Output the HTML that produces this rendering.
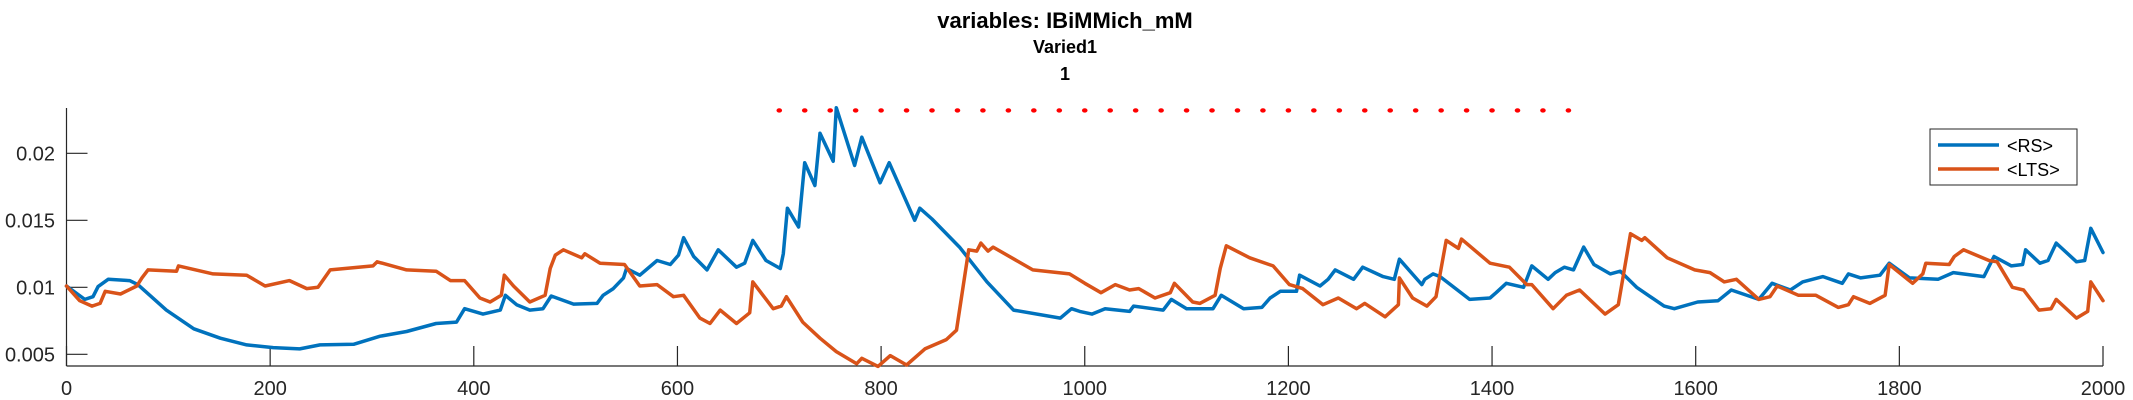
<!DOCTYPE html>
<html><head><meta charset="utf-8"><style>
html,body{margin:0;padding:0;background:#fff;}
svg{display:block;font-family:"Liberation Sans",sans-serif;}
</style></head><body>
<svg id="chart" width="2133" height="400" viewBox="0 0 2133 400" xmlns="http://www.w3.org/2000/svg">
<text x="1065" y="28" text-anchor="middle" font-size="22" font-weight="bold" fill="#000">variables: IBiMMich_mM</text>
<text x="1065" y="53" text-anchor="middle" font-size="18" font-weight="bold" fill="#000">Varied1</text>
<text x="1065" y="80" text-anchor="middle" font-size="18" font-weight="bold" fill="#000">1</text>
<g id="axes"></g>
<g id="dots"></g>
<g id="series"></g>
<g>
<rect x="1930" y="129" width="147" height="56" fill="#fff" stroke="#262626" stroke-width="1"/>
<line x1="1938" y1="145" x2="1999" y2="145" stroke="#0072BD" stroke-width="3.5"/>
<text x="2007" y="152" font-size="18" fill="#000">&lt;RS&gt;</text>
<line x1="1938" y1="169" x2="1999" y2="169" stroke="#D95319" stroke-width="3.5"/>
<text x="2007" y="176" font-size="18" fill="#000">&lt;LTS&gt;</text>
</g>
</svg>
<script>
const xTicks = [0,200,400,600,800,1000,1200,1400,1600,1800,2000];
const yTicks = [0.005,0.01,0.015,0.02];
const yTickLabels = ["0.005","0.01","0.015","0.02"];
const rsT = [0,18,26,31,41,62,70,98,125,151,177,203,229,249,282,308,334,363,383,391,409,426,431,442,455,468,476,498,521,527,537,547,550,563,580,593,601,606,616,629,640,658,666,674,687,701,704,708,719,725,735,740,753,756,774,781,799,808,833,838,850,877,904,930,976,987,995,1007,1020,1044,1048,1077,1085,1100,1126,1134,1156,1174,1182,1192,1208,1211,1231,1239,1246,1264,1273,1293,1304,1309,1331,1334,1342,1349,1378,1398,1404,1414,1431,1439,1455,1462,1471,1480,1490,1500,1516,1526,1542,1569,1579,1602,1622,1635,1662,1675,1693,1705,1725,1744,1750,1762,1781,1790,1810,1838,1853,1883,1893,1910,1921,1924,1938,1946,1954,1974,1982,1988,2000];
const rsV = [0.0101,0.0091,0.0093,0.01005,0.0106,0.0105,0.0102,0.0083,0.0069,0.0062,0.0057,0.0055,0.0054,0.0057,0.00575,0.00635,0.0067,0.0073,0.0074,0.0084,0.0080,0.0083,0.0094,0.0087,0.0083,0.0084,0.00935,0.00875,0.0088,0.0094,0.0099,0.0107,0.0114,0.0109,0.0120,0.0117,0.0124,0.0137,0.0123,0.0113,0.0128,0.0115,0.0118,0.0135,0.0120,0.0114,0.0125,0.0159,0.0145,0.0193,0.0176,0.0215,0.0194,0.0234,0.0191,0.0212,0.0178,0.0193,0.0150,0.0159,0.0151,0.0130,0.0104,0.0083,0.0077,0.0084,0.0082,0.0080,0.0084,0.0082,0.0086,0.0083,0.0091,0.0084,0.0084,0.0094,0.0084,0.0085,0.0092,0.0097,0.0097,0.0109,0.0101,0.0106,0.0113,0.0106,0.0115,0.0108,0.0106,0.0121,0.0102,0.0106,0.0110,0.0108,0.0091,0.0092,0.0096,0.0103,0.0100,0.0116,0.0106,0.0111,0.0115,0.0113,0.0130,0.0117,0.0110,0.0112,0.0100,0.0086,0.0084,0.0089,0.0090,0.0098,0.0091,0.0103,0.0098,0.0104,0.0108,0.0103,0.0110,0.0107,0.0109,0.0118,0.0107,0.0106,0.0111,0.0108,0.0123,0.0116,0.0117,0.0128,0.0118,0.0120,0.0133,0.0119,0.0120,0.0144,0.0126];
const ltsT = [0,13,25,33,38,53,69,74,80,108,110,144,177,195,219,236,247,259,301,305,334,363,377,391,406,416,427,430,439,455,470,475,480,488,506,509,524,548,563,580,596,606,622,632,642,658,671,674,694,702,707,723,740,756,776,781,797,809,825,843,864,874,886,894,898,905,910,949,985,1000,1016,1030,1044,1053,1069,1084,1088,1106,1113,1128,1133,1139,1162,1185,1201,1214,1234,1249,1267,1275,1295,1308,1309,1322,1336,1345,1355,1367,1370,1398,1417,1434,1439,1460,1473,1486,1511,1524,1536,1547,1550,1572,1599,1614,1628,1640,1662,1673,1680,1701,1718,1740,1750,1755,1771,1786,1790,1813,1823,1826,1849,1854,1863,1888,1896,1911,1922,1937,1949,1954,1974,1985,1988,2000];
const ltsV = [0.0101,0.0090,0.0086,0.0088,0.0097,0.0095,0.0101,0.0107,0.0113,0.0112,0.0116,0.0110,0.0109,0.0101,0.0105,0.0099,0.0100,0.0113,0.0116,0.0119,0.0113,0.0112,0.0105,0.0105,0.0092,0.0089,0.0094,0.0109,0.0101,0.0089,0.0094,0.0114,0.0124,0.0128,0.0122,0.0125,0.0118,0.0117,0.0101,0.0102,0.0093,0.0094,0.0077,0.0073,0.0083,0.0073,0.0081,0.0104,0.0084,0.0086,0.0093,0.0074,0.0062,0.0052,0.0043,0.0047,0.0041,0.0049,0.0042,0.0054,0.0061,0.0068,0.0128,0.0127,0.0133,0.0127,0.0130,0.0113,0.0110,0.0103,0.0096,0.0102,0.0098,0.0099,0.0092,0.0096,0.0103,0.0089,0.0088,0.0094,0.0114,0.0131,0.0122,0.0116,0.0102,0.0099,0.0087,0.0092,0.0084,0.0088,0.0078,0.0087,0.0107,0.0092,0.0086,0.0093,0.0135,0.0129,0.0136,0.0118,0.0115,0.0102,0.0102,0.0084,0.0094,0.0098,0.0080,0.0087,0.0140,0.0135,0.0137,0.0122,0.0113,0.0111,0.0104,0.0106,0.0091,0.0093,0.0101,0.0094,0.0094,0.0085,0.0087,0.0093,0.0088,0.0094,0.0117,0.0103,0.0110,0.0118,0.0117,0.0123,0.0128,0.0120,0.0119,0.0100,0.0098,0.0083,0.0084,0.0091,0.0077,0.0082,0.0104,0.0090];
const dotStart = 700, dotEnd = 1475, dotStep = 25;
const dotLevel = 0.0232;

const NS = "http://www.w3.org/2000/svg";
const X0 = 66.5, X1 = 2103, Y_TOP = 108, Y_BOT = 366;
function xs(t){ return X0 + (t - 0) / 2000 * (X1 - X0); }
function ys(v){ return 354.3 - (v - 0.005) / 0.005 * 67; }
function mk(tag, attrs){ const e = document.createElementNS(NS, tag); for (const k in attrs) e.setAttribute(k, attrs[k]); return e; }

const axes = document.getElementById('axes');
const yAxis = mk('line', {x1:X0, y1:Y_TOP, x2:X0, y2:Y_BOT, stroke:'#262626', 'stroke-width':1.2});


axes.appendChild(yAxis);
const xAxis = mk('line', {x1:X0, y1:Y_BOT, x2:X1, y2:Y_BOT, stroke:'#262626', 'stroke-width':1.2});


axes.appendChild(xAxis);
xTicks.forEach(t => {
  const x = xs(t);
  const tk = mk('line', {x1:x, y1:Y_BOT, x2:x, y2:Y_BOT-20, stroke:'#262626', 'stroke-width':1.2});
  
  
  axes.appendChild(tk);
  const lb = mk('text', {x:x, y:395, 'text-anchor':'middle', 'font-size':20, fill:'#262626'});
  lb.textContent = String(t);
  
  
  axes.appendChild(lb);
});
yTicks.forEach((v, i) => {
  const y = ys(v);
  const tk = mk('line', {x1:X0, y1:y, x2:X0+21, y2:y, stroke:'#262626', 'stroke-width':1.2});
  
  
  axes.appendChild(tk);
  const lb = mk('text', {x:55, y:y+7, 'text-anchor':'end', 'font-size':20, fill:'#262626'});
  lb.textContent = yTickLabels[i];
  
  
  axes.appendChild(lb);
});

const dots = document.getElementById('dots');
for (let t = dotStart; t <= dotEnd; t += dotStep) {
  const d = mk('ellipse', {cx:xs(t), cy:ys(dotLevel), rx:2.8, ry:2.2, fill:'#FF0000'});
  
  
  dots.appendChild(d);
}

const series = document.getElementById('series');
function drawLine(T, V, color, name){
  const pts = T.map((t, i) => xs(t).toFixed(1) + ',' + ys(V[i]).toFixed(1)).join(' ');
  const p = mk('polyline', {points:pts, fill:'none', stroke:color, 'stroke-width':3.5, 'stroke-linejoin':'round', 'stroke-linecap':'round'});
  
  
  series.appendChild(p);
}
drawLine(rsT, rsV, '#0072BD', 'rs-line');
drawLine(ltsT, ltsV, '#D95319', 'lts-line');
</script>
</body></html>
